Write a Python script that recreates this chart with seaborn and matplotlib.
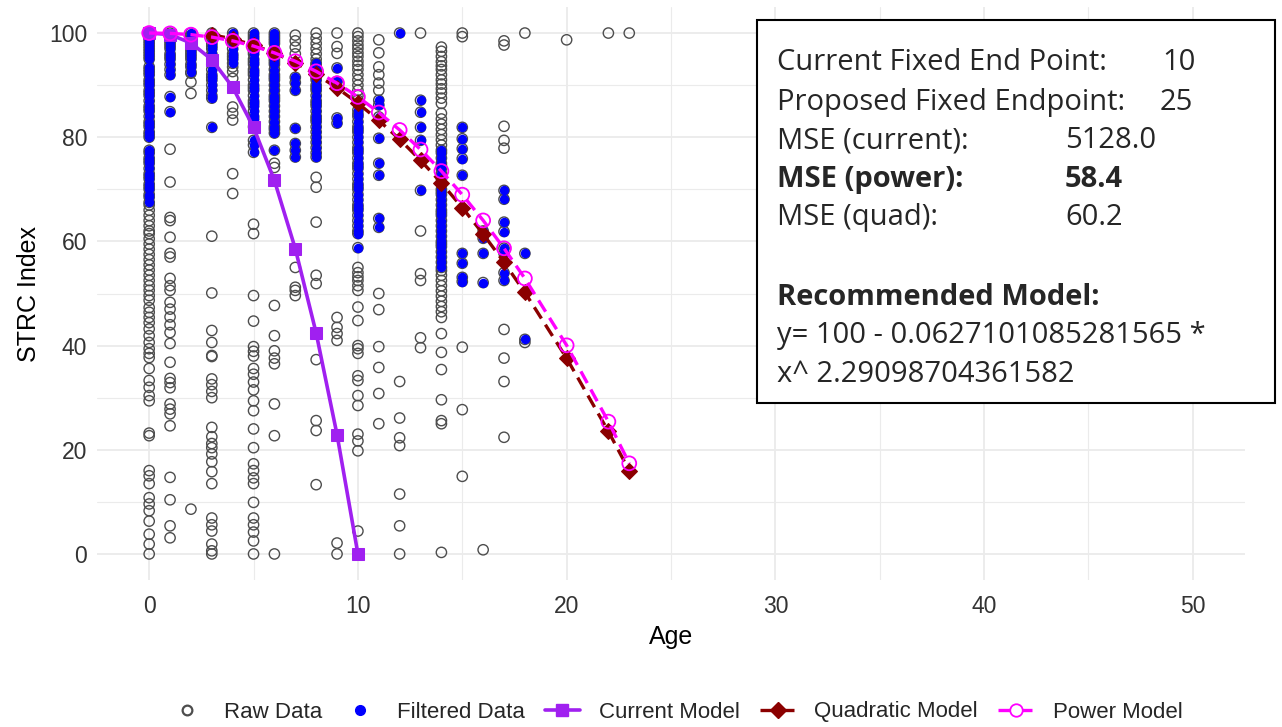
import numpy as np
import pandas as pd
import matplotlib
matplotlib.use("Agg")
import matplotlib.pyplot as plt
import seaborn as sns
from matplotlib.lines import Line2D
from matplotlib.patches import Rectangle

# ---------------- data ----------------
# Raw observations (open grey circles) that are visible, per age
raw_0 = [67, 66, 65, 64, 63, 62, 61.5, 60.5, 59.5, 58.5, 57.5, 56.5, 55.5, 54.5, 53.5, 52.5,
         51.5, 50.6, 49.6, 48.7, 47.3, 46.4, 45.4, 44.4, 43.2, 41.9, 40.6, 39.4, 38.5, 37.7,
         35.6, 33.3, 32.0, 30.4, 29.4, 23.2, 22.7, 16.0, 15.0, 13.5, 10.8, 9.6, 8.3, 6.3,
         3.8, 1.9, 0.0]
raw_1 = [77.7, 71.4, 64.6, 64.0, 60.8, 57.7, 57.0, 52.9, 51.5, 50.6, 48.3, 47.0, 45.5, 44.0,
         42.5, 40.4, 36.8, 33.7, 32.9, 31.9, 28.8, 27.8, 26.9, 24.6, 14.7, 10.4, 5.4, 3.1]
raw_2 = [92.3, 90.6, 88.4, 8.6]
raw_3 = [61.0, 50.1, 42.9, 40.6, 38.1, 37.9, 33.6, 32.5, 31.2, 30.0, 24.3, 22.5, 21.2, 20.4,
         19.2, 17.7, 15.8, 13.5, 6.9, 5.6, 4.4, 1.9, 0.6, 0.0]
raw_4 = [93.5, 92.6, 91.3, 85.8, 84.6, 83.3, 73.0, 69.2]
raw_5 = [63.3, 61.5, 49.6, 44.7, 39.8, 38.9, 38.0, 35.6, 34.5, 33.0, 31.5, 29.4, 27.5, 24.0,
         20.4, 17.3, 16.0, 14.6, 13.5, 9.9, 6.9, 5.6, 4.2, 2.5, 0.0]
raw_6 = [75.0, 74.2, 47.7, 41.9, 39.0, 37.6, 36.5, 28.8, 22.7, 0.0]
raw_7 = [99.6, 98.5, 97.3, 96.0, 55.0, 51.2, 50.6, 49.6]
raw_8 = [100, 99, 98, 97, 96, 95, 94, 93, 92.3, 72.3, 70.4, 63.7, 53.5, 51.9, 37.3, 25.6,
         23.7, 13.3]
raw_9 = [100, 97.4, 96.1, 45.4, 43.5, 42.3, 41.0, 2.1, 0.0]
raw_10 = [100, 99.3, 98.5, 97.7, 97.0, 96.2, 95.5, 94.6, 93.8, 93.0, 92.0, 91.0, 90.0, 89.0,
          88.0, 87.1, 55.0, 54.0, 53.2, 52.5, 51.5, 50.6, 47.4, 44.8, 40.0, 39.4, 38.5, 34.2,
          33.3, 30.4, 28.5, 23.0, 21.7, 19.8, 4.4]
raw_11 = [98.7, 96.2, 93.5, 92.0, 90.4, 89.0, 50.0, 46.9, 39.8, 35.8, 30.8, 25.0]
raw_12 = [33.1, 26.1, 22.3, 20.8, 11.5, 5.4, 0.0]
raw_13 = [100, 62.0, 53.8, 52.5, 41.5, 39.6]
raw_14 = [97.3, 96.5, 95.5, 94.5, 93.7, 93.0, 92.0, 91.0, 90.2, 89.3, 88.5, 87.5, 86.5, 84.6,
          83.5, 82.5, 81.5, 80.5, 79.5, 78.5, 54.4, 53.5, 52.5, 51.5, 50.5, 49.5, 48.5, 47.5,
          46.5, 45.4, 42.3, 38.7, 35.4, 29.6, 25.6, 25.0, 0.3]
raw_15 = [100, 99.3, 39.7, 27.7, 14.9]
raw_16 = [0.8]
raw_17 = [98.5, 97.7, 82.1, 79.4, 77.9, 43.1, 37.6, 33.1, 22.4]
raw_18 = [100, 40.6]
raw_20 = [98.7]
raw_22 = [100]
raw_23 = [100]

# Filtered observations (filled blue), per age
filt_0 = [100, 99.5, 99, 98.5, 98, 97.5, 97, 96.5, 96, 95.5, 95, 93.5, 93, 92.5, 92, 91, 90.5,
          90, 89, 88.5, 88, 87, 86, 85.5, 85, 84, 83, 82.5, 82, 81, 80.5, 80, 77.5, 77, 76,
          75.5, 75, 74, 73, 72.5, 72, 71, 70.5, 70, 69, 68.5, 67.5]
filt_1 = [100, 99.5, 99, 98.5, 98, 97.5, 97, 96, 95.5, 95, 94, 93, 92, 87.8, 84.9]
filt_2 = [100, 99.5, 99, 98.5, 98, 97.5, 97, 96.5, 96, 95.5, 95, 94, 93.5, 92.5]
filt_3 = [100, 99.5, 99, 98, 97.5, 97, 96, 95.5, 95, 94, 93, 92, 91.5, 91, 90, 89, 88, 87.5,
          81.9]
filt_4 = [100, 99.5, 99, 98.5, 98, 97, 96, 95.5, 95, 94.2]
filt_5 = [100, 99.5, 99, 98.5, 98, 97.5, 97, 96.5, 96, 95, 94.5, 94, 93, 92.5, 92, 91, 90,
          89.5, 89, 88, 87, 86.5, 86, 85, 84, 83.5, 82, 79.4, 78.5, 77.1]
filt_6 = [100, 99.5, 99, 98.5, 98, 97, 96.5, 96, 95, 94.5, 94, 93, 92, 91.5, 91, 90, 89, 88,
          87.5, 87, 86, 85, 84, 83, 82, 81.5, 80.8, 77.5]
filt_7 = [91.5, 90.5, 89, 81.7, 78.8, 77.5, 76.2]
filt_8 = [94.2, 93.5, 93, 92, 91.5, 91, 90, 89.5, 89, 88, 87, 86.5, 86, 85, 84, 83.5, 83, 82,
          81, 80, 79, 78, 77, 76.2]
filt_9 = [93.3, 90.7, 83.7, 82.7]
filt_10 = [85.2, 84.5, 84, 83, 82, 81.5, 81, 80, 79, 78, 77.5, 77, 76, 75, 74.5, 74, 73, 72,
           71, 70.5, 70, 69, 68, 67, 66.5, 66, 65, 64, 63, 62, 61.5, 58.8]
filt_11 = [87.1, 86.2, 83.9, 79.8, 75.0, 72.7, 64.4, 62.7]
filt_12 = [100]
filt_13 = [87.1, 84.8, 81.9, 79.4, 69.8]
filt_14 = [77.5, 77, 76, 75, 74.5, 74, 73, 72, 71, 70, 69.5, 69, 68, 67, 66, 65.5, 65, 64,
           63, 62, 61, 60, 59.5, 59, 58, 57, 56, 55]
filt_15 = [81.9, 79.7, 77.8, 75.9, 72.7, 57.7, 55.8, 53.1, 52.3]
filt_16 = [62.0, 60.6, 57.7, 52.1]
filt_17 = [69.8, 68.1, 63.7, 61.9, 58.7, 57.7, 54.0, 52.5]
filt_18 = [57.7, 41.2]

raw_ages = [0, 1, 2, 3, 4, 5, 6, 7, 8, 9, 10, 11, 12, 13, 14, 15, 16, 17, 18, 20, 22, 23]
raw_lists = [raw_0, raw_1, raw_2, raw_3, raw_4, raw_5, raw_6, raw_7, raw_8, raw_9, raw_10,
             raw_11, raw_12, raw_13, raw_14, raw_15, raw_16, raw_17, raw_18, raw_20, raw_22,
             raw_23]
filt_ages = list(range(0, 19))
filt_lists = [filt_0, filt_1, filt_2, filt_3, filt_4, filt_5, filt_6, filt_7, filt_8, filt_9,
              filt_10, filt_11, filt_12, filt_13, filt_14, filt_15, filt_16, filt_17, filt_18]

# Model curves
current_age = [0, 1, 2, 3, 4, 5, 6, 7, 8, 9, 10]
current_val = [100, 99.7, 98.1, 94.9, 89.6, 81.9, 71.7, 58.6, 42.4, 22.9, 0.0]

quad_age = [3, 4, 5, 6, 7, 8, 9, 10, 11, 12, 13, 14, 15, 16, 17, 18, 20, 22, 23]
quad_val = [99.68, 98.87, 97.70, 96.18, 94.30, 92.06, 89.47, 86.53, 83.23, 79.58, 75.57,
            71.21, 66.49, 61.42, 55.99, 50.21, 37.58, 23.53, 15.98]

power_age = [0, 1, 2, 3, 4, 5, 6, 7, 8, 9, 10, 11, 12, 13, 14, 15, 16, 17, 18, 20, 22, 23]
power_val = [100, 99.94, 99.69, 99.22, 98.50, 97.50, 96.20, 94.59, 92.65, 90.37, 87.75,
             84.75, 81.39, 77.64, 73.50, 68.97, 64.03, 58.68, 52.89, 40.05, 25.4, 17.4]

x_ticks = [0, 10, 20, 30, 40, 50]
y_ticks = [0, 20, 40, 60, 80, 100]

box_labels = ["Current Fixed End Point:", "Proposed Fixed Endpoint:", "MSE (current):",
              "MSE (power):", "MSE (quad):"]
box_values = ["10", "25", "5128.0", "58.4", "60.2"]
model_title = "Recommended Model:"
model_lines = ["y= 100 - 0.0627101085281565 *", "x^ 2.29098704361582"]

# ---------------- build frames ----------------
raw_df = pd.DataFrame({
    "Age": np.concatenate([[a] * len(v) for a, v in zip(raw_ages, raw_lists)] +
                          [[a] * len(v) for a, v in zip(filt_ages, filt_lists)]),
    "STRC": np.concatenate(raw_lists + filt_lists),
})
filt_df = pd.DataFrame({
    "Age": np.concatenate([[a] * len(v) for a, v in zip(filt_ages, filt_lists)]),
    "STRC": np.concatenate(filt_lists),
})
cur_df = pd.DataFrame({"Age": current_age, "STRC": current_val})
quad_df = pd.DataFrame({"Age": quad_age, "STRC": quad_val})
pow_df = pd.DataFrame({"Age": power_age, "STRC": power_val})

# ---------------- style ----------------
sns.set_theme(style="whitegrid")
plt.rcParams['font.family'] = ['Liberation Sans', 'DejaVu Sans']

W, H = 1282, 727
fig = plt.figure(figsize=(W / 100, H / 100), dpi=100)
fig.patch.set_facecolor("white")
L, R, T, B = 97, 1245, 7, 580
ax = fig.add_axes([L / W, 1 - B / H, (R - L) / W, (B - T) / H])
ax.set_facecolor("white")

GREY = "#4D4D4D"
BLUE = "#0000FF"
PURPLE = "#A020F0"
DARKRED = "#8B0000"
MAGENTA = "#FF00FF"

sns.scatterplot(data=raw_df, x="Age", y="STRC", ax=ax, marker="o", s=55,
                color=GREY, facecolors="none", edgecolors=GREY, linewidths=1.0,
                zorder=2, legend=False)
sns.scatterplot(data=filt_df, x="Age", y="STRC", ax=ax, marker="o", s=46,
                color=BLUE, edgecolor=BLUE, linewidth=0, zorder=3, legend=False)
sns.lineplot(data=cur_df, x="Age", y="STRC", ax=ax, color=PURPLE, linewidth=2.6,
             marker="s", markersize=9, markeredgecolor=PURPLE, markerfacecolor=PURPLE,
             zorder=4, legend=False)
sns.lineplot(data=quad_df, x="Age", y="STRC", ax=ax, color=DARKRED, linewidth=2.4,
             linestyle=(0, (4, 2.2)), marker="D", markersize=8.5,
             markeredgecolor=DARKRED, markerfacecolor=DARKRED, zorder=5, legend=False)
sns.lineplot(data=pow_df, x="Age", y="STRC", ax=ax, color=MAGENTA, linewidth=2.4,
             linestyle=(0, (4, 2.2)), zorder=6, legend=False)
sns.scatterplot(data=pow_df, x="Age", y="STRC", ax=ax, marker="o", s=100,
                color=MAGENTA, facecolors="none", edgecolors=MAGENTA, linewidths=1.3,
                zorder=7, legend=False)

ax.set_xlim(-2.5, 52.5)
ax.set_ylim(-5, 105)
ax.set_xticks(x_ticks)
ax.set_yticks(y_ticks)
ax.set_xticks([5, 15, 25, 35, 45], minor=True)
ax.set_yticks([10, 30, 50, 70, 90], minor=True)
ax.grid(which="major", color="#EBEBEB", linewidth=1.3)
ax.grid(which="minor", color="#EBEBEB", linewidth=0.8)
for s in ax.spines.values():
    s.set_visible(False)
ax.tick_params(axis="both", which="both", length=0, labelsize=16.5, labelcolor="#333333")
ax.tick_params(axis="x", pad=11)
ax.tick_params(axis="y", pad=7)
ax.set_xlabel("Age", fontsize=18, color="black", labelpad=5)
ax.set_ylabel("STRC Index", fontsize=18, color="black", labelpad=6)

# ---------------- legend ----------------
handles = [
    Line2D([], [], linestyle="none", marker="o", markersize=7, markerfacecolor="none",
           markeredgecolor=GREY, markeredgewidth=1.6),
    Line2D([], [], linestyle="none", marker="o", markersize=7, markerfacecolor=BLUE,
           markeredgecolor=BLUE),
    Line2D([], [], color=PURPLE, linewidth=2.6, marker="s", markersize=9),
    Line2D([], [], color=DARKRED, linewidth=2.4, linestyle=(0, (4, 2.2)), marker="D",
           markersize=8),
    Line2D([], [], color=MAGENTA, linewidth=2.4, linestyle=(0, (4, 2.2)), marker="o",
           markersize=9, markerfacecolor="white", markeredgecolor=MAGENTA,
           markeredgewidth=1.3),
]
labels = ["Raw Data", "Filtered Data", "Current Model", "Quadratic Model", "Power Model"]
fig.legend(handles, labels, loc="center", bbox_to_anchor=(676 / W, 1 - 712 / H),
           ncol=5, frameon=False, fontsize=16, handlelength=1.6, handletextpad=0.85,
           columnspacing=0.9, borderpad=0.2)

# ---------------- annotation box ----------------
bx0, by0, bx1, by1 = 757, 20, 1275, 403
fig.add_artist(Rectangle((bx0 / W, 1 - by1 / H), (bx1 - bx0) / W, (by1 - by0) / H,
                         transform=fig.transFigure, facecolor="white", edgecolor="black",
                         linewidth=1.5, zorder=5))
BOXFONT = ["Open Sans", "DejaVu Sans"]
fs = 21
baselines = [70, 110, 148.5, 187, 225]
val_x = [1162, 1160, 1065, 1065, 1065]
for i, (lab, val) in enumerate(zip(box_labels, box_values)):
    wt = "bold" if i == 3 else "normal"
    fig.text(777 / W, 1 - baselines[i] / H, lab, fontsize=fs, family=BOXFONT,
             fontweight=wt, va="baseline", ha="left", zorder=6)
    fig.text(val_x[i] / W, 1 - baselines[i] / H, val, fontsize=fs, family=BOXFONT,
             fontweight=wt, va="baseline", ha="left", zorder=6)
fig.text(777 / W, 1 - 305 / H, model_title, fontsize=fs, family=BOXFONT,
         fontweight="bold", va="baseline", ha="left", zorder=6)
for j, line in enumerate(model_lines):
    fig.text(777 / W, 1 - (343 + 38.5 * j) / H, line, fontsize=fs, family=BOXFONT,
             va="baseline", ha="left", zorder=6)

fig.savefig("out.png", dpi=100, facecolor="white")
